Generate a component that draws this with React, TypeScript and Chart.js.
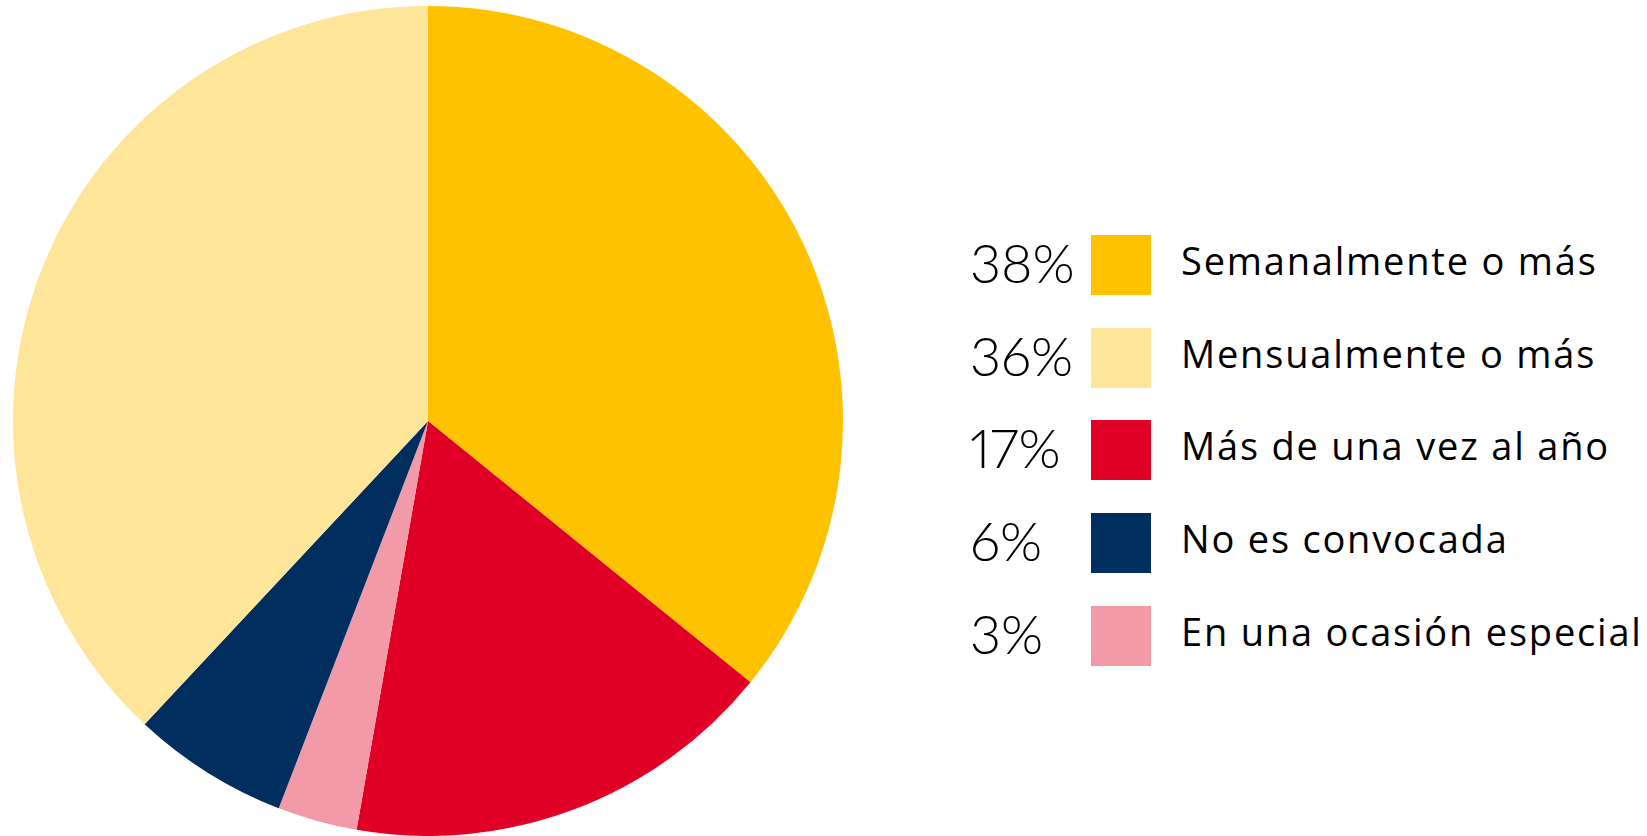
import React, { useEffect, useRef } from "react";
import { Chart, registerables } from "chart.js";

Chart.register(...registerables);

// Pie slices, clockwise from 12 o'clock
const sliceLabels = [
  "Semanalmente o más",
  "Más de una vez al año",
  "En una ocasión especial",
  "No es convocada",
  "Mensualmente o más",
];
const sliceValues = [35.8, 16.9, 3.1, 6.1, 38.0];
const sliceColors = ["#FFC200", "#E00025", "#F29AA8", "#002F5F", "#FEE59A"];

// Legend (as printed beside the chart)
const legendPercents = ["38%", "36%", "17%", "6%", "3%"];
const legendLabels = [
  "Semanalmente o más",
  "Mensualmente o más",
  "Más de una vez al año",
  "No es convocada",
  "En una ocasión especial",
];
const legendColors = ["#FFC200", "#FEE59A", "#E00025", "#002F5F", "#F29AA8"];

const NUM_FONT = "Lato, 'Open Sans', sans-serif";
const LABEL_FONT = "'Open Sans', Lato, sans-serif";

function PieChart() {
  const ref = useRef<HTMLCanvasElement | null>(null);
  useEffect(() => {
    if (!ref.current) return;
    const chart = new Chart(ref.current, {
      type: "pie",
      data: {
        labels: sliceLabels,
        datasets: [
          {
            data: sliceValues,
            backgroundColor: sliceColors,
            borderWidth: 0,
            hoverOffset: 0,
            offset: 0,
          },
        ],
      },
      options: {
        responsive: false,
        animation: false,
        layout: { padding: { top: 6, bottom: 0, left: 0, right: 0 } },
        plugins: {
          legend: { display: false },
          tooltip: { enabled: false },
          title: { display: false },
        },
      },
    });
    return () => chart.destroy();
  }, []);
  return (
    <canvas
      ref={ref}
      width={856}
      height={836}
      style={{ position: "absolute", left: 0, top: 0, width: 856, height: 836 }}
    />
  );
}

export default function App() {
  const rowTop0 = 235;
  const rowStep = 92.7;
  return (
    <div
      style={{
        position: "fixed",
        left: 0,
        top: 0,
        width: 1647,
        height: 836,
        background: "#ffffff",
        overflow: "hidden",
      }}
    >
      <PieChart />
      {legendLabels.map((label, i) => {
        const top = rowTop0 + i * rowStep;
        return (
          <React.Fragment key={label}>
            <div
              style={{
                position: "absolute",
                left: 970,
                top: top + 1,
                fontFamily: NUM_FONT,
                fontWeight: 300,
                fontSize: 54,
                lineHeight: "54px",
                fontVariantNumeric: "proportional-nums",
                color: "#000",
                whiteSpace: "nowrap",
              }}
            >
              {legendPercents[i]}
            </div>
            <div
              style={{
                position: "absolute",
                left: 1091,
                top: top,
                width: 60,
                height: 60,
                background: legendColors[i],
              }}
            />
            <div
              style={{
                position: "absolute",
                left: 1181,
                top: top + 6,
                fontFamily: LABEL_FONT,
                fontWeight: 400,
                fontSize: 38,
                lineHeight: "38px",
                letterSpacing: "1.8px",
                color: "#000",
                whiteSpace: "nowrap",
              }}
            >
              {label}
            </div>
          </React.Fragment>
        );
      })}
    </div>
  );
}
